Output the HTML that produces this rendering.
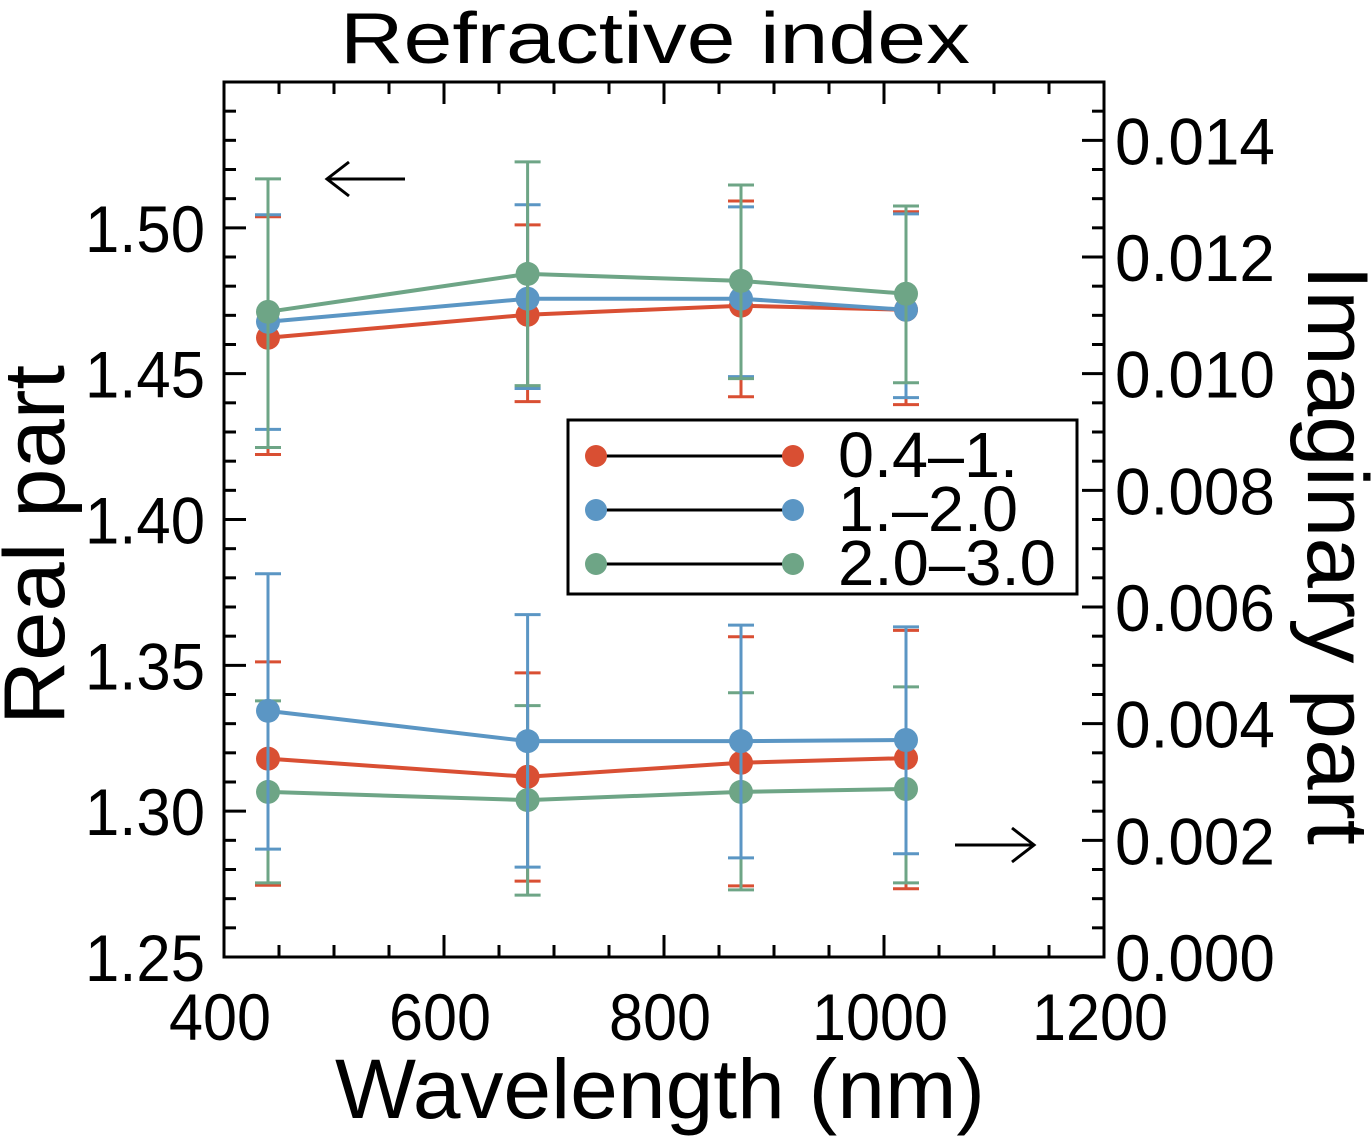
<!DOCTYPE html>
<html><head><meta charset="utf-8"><style>
html,body{margin:0;padding:0;background:#fff;}
svg{display:block;font-family:"Liberation Sans",sans-serif;}
</style></head><body>
<svg id="chart" width="1372" height="1140" viewBox="0 0 1372 1140" xmlns="http://www.w3.org/2000/svg">
<text x="655" y="63" font-size="72" text-anchor="middle" textLength="630" lengthAdjust="spacingAndGlyphs">Refractive index</text>
<text x="660" y="1118" font-size="84" text-anchor="middle" textLength="650" lengthAdjust="spacingAndGlyphs">Wavelength (nm)</text>
<text transform="translate(64,545) rotate(-90)" font-size="86" text-anchor="middle" textLength="360" lengthAdjust="spacingAndGlyphs">Real part</text>
<text transform="translate(1308,555) rotate(90)" font-size="86" text-anchor="middle" textLength="580" lengthAdjust="spacingAndGlyphs">Imaginary part</text>
<g id="ticks"></g>
<g id="marks"></g>
<rect x="224" y="82" width="880" height="875" fill="none" stroke="#000" stroke-width="3"/>
<g stroke="#000" stroke-width="3" fill="none"><line x1="327" y1="179" x2="405" y2="179"/><polyline points="349,162 327,179 349,196"/></g>
<g stroke="#000" stroke-width="3" fill="none"><line x1="955" y1="845" x2="1034" y2="845"/><polyline points="1012,828 1034,845 1012,862"/></g>
<g id="legend">
<rect x="568" y="420" width="509" height="174" fill="#fff" stroke="#000" stroke-width="3"/>
</g>
</svg>
<script>
const wavelengths = [440, 676, 870, 1020];
const seriesNames = ["0.4\u20131.", "1.\u20132.0", "2.0\u20133.0"];
const colors = ["#d94f33", "#5b96c4", "#6ea586"];
// Real part (left axis)
const realRed = [1.4623, 1.4702, 1.4733, 1.4719];
const realRedHi = [1.5038, 1.5010, 1.5092, 1.5055];
const realRedLo = [1.4223, 1.4404, 1.4421, 1.4394];
const realBlue = [1.4678, 1.4757, 1.4757, 1.4719];
const realBlueHi = [1.5045, 1.5079, 1.5072, 1.5048];
const realBlueLo = [1.4309, 1.4449, 1.4490, 1.4418];
const realGreen = [1.4712, 1.4842, 1.4818, 1.4774];
const realGreenHi = [1.5168, 1.5226, 1.5147, 1.5075];
const realGreenLo = [1.4247, 1.4459, 1.4483, 1.4469];
// Imaginary part (right axis)
const imRed = [0.00340, 0.00309, 0.00333, 0.00341];
const imRedHi = [0.00506, 0.00487, 0.00549, 0.00560];
const imRedLo = [0.00123, 0.00130, 0.00122, 0.00117];
const imBlue = [0.00422, 0.00370, 0.00370, 0.00372];
const imBlueHi = [0.00657, 0.00587, 0.00569, 0.00566];
const imBlueLo = [0.00185, 0.00154, 0.00170, 0.00177];
const imGreen = [0.00283, 0.00269, 0.00283, 0.00288];
const imGreenHi = [0.00439, 0.00431, 0.00453, 0.00463];
const imGreenLo = [0.00127, 0.00106, 0.00115, 0.00127];
const xTickLabels = ["400", "600", "800", "1000", "1200"];
const leftTickLabels = ["1.25", "1.30", "1.35", "1.40", "1.45", "1.50"];
const rightTickLabels = ["0.000", "0.002", "0.004", "0.006", "0.008", "0.010", "0.012", "0.014"];

const L = 224, R = 1104, T = 82, B = 957;
const xS = v => L + (v - 400) / 800 * (R - L);
const yL = v => B - (v - 1.25) / 0.30 * (B - T);
const yR = v => B - v / 0.015 * (B - T);
const NS = "http://www.w3.org/2000/svg";
function mk(tag, attrs, parent) {
  const e = document.createElementNS(NS, tag);
  for (const k in attrs) e.setAttribute(k, attrs[k]);
  parent.appendChild(e);
  return e;
}
const tg = document.getElementById("ticks");
for (let v = 450; v < 1200; v += 50) {
  const major = v % 200 === 0;
  const len = major ? 22 : 12;
  const t1 = mk("line", {x1: xS(v), x2: xS(v), y1: B, y2: B - len, stroke: "#000", "stroke-width": 3}, tg);
  
  
  const t2 = mk("line", {x1: xS(v), x2: xS(v), y1: T, y2: T + len, stroke: "#000", "stroke-width": 3}, tg);
  
  
}
xTickLabels.forEach(s => {
  const v = parseFloat(s);
  const t = mk("text", {x: xS(v) - 4, y: 1040, "font-size": 66, "text-anchor": "middle", textLength: s.length * 34, lengthAdjust: "spacingAndGlyphs"}, tg);
  t.textContent = s;
  
  
});
for (let i = 1; i < 30; i++) {
  const v = 1.25 + i * 0.01;
  const major = i % 5 === 0;
  const t = mk("line", {x1: L, x2: L + (major ? 22 : 12), y1: yL(v), y2: yL(v), stroke: "#000", "stroke-width": 3}, tg);
  
  
}
leftTickLabels.forEach(s => {
  const t = mk("text", {x: 205, y: yL(parseFloat(s)) + 24, "font-size": 66, "text-anchor": "end", textLength: 120, lengthAdjust: "spacingAndGlyphs"}, tg);
  t.textContent = s;
  
  
});
for (let i = 1; i < 30; i++) {
  const v = i * 0.0005;
  const major = i % 4 === 0;
  const t = mk("line", {x1: R, x2: R - (major ? 22 : 12), y1: yR(v), y2: yR(v), stroke: "#000", "stroke-width": 3}, tg);
  
  
}
rightTickLabels.forEach(s => {
  const t = mk("text", {x: 1115, y: yR(parseFloat(s)) + 24, "font-size": 66, "text-anchor": "start", textLength: 160, lengthAdjust: "spacingAndGlyphs"}, tg);
  t.textContent = s;
  
  
});

const mg = document.getElementById("marks");
const groups = [
  {vals: realRed, hi: realRedHi, lo: realRedLo, y: yL, c: 0, name: "real-red"},
  {vals: realBlue, hi: realBlueHi, lo: realBlueLo, y: yL, c: 1, name: "real-blue"},
  {vals: realGreen, hi: realGreenHi, lo: realGreenLo, y: yL, c: 2, name: "real-green"},
  {vals: imRed, hi: imRedHi, lo: imRedLo, y: yR, c: 0, name: "imag-red"},
  {vals: imGreen, hi: imGreenHi, lo: imGreenLo, y: yR, c: 2, name: "imag-green"},
  {vals: imBlue, hi: imBlueHi, lo: imBlueLo, y: yR, c: 1, name: "imag-blue"}
];
groups.forEach(g => {
  const col = colors[g.c];
  const sg = mk("g", {}, mg);
  
  
  wavelengths.forEach((w, i) => {
    const x = xS(w), yh = g.y(g.hi[i]), yl = g.y(g.lo[i]);
    const eb = mk("path", {d: `M${x},${yh}V${yl}M${x-13},${yh}H${x+13}M${x-13},${yl}H${x+13}`, stroke: col, "stroke-width": 3, fill: "none"}, sg);
    
    
  });
  const pts = wavelengths.map((w, i) => xS(w) + "," + g.y(g.vals[i])).join(" ");
  const pl = mk("polyline", {points: pts, stroke: col, "stroke-width": 4, fill: "none"}, sg);
  
  
  wavelengths.forEach((w, i) => {
    const c = mk("circle", {cx: xS(w), cy: g.y(g.vals[i]), r: 12, fill: col}, sg);
    
    
  });
});

const lg = document.getElementById("legend");
const rowY = [456, 510, 564];
const legendWidths = [180, 180, 218];
seriesNames.forEach((n, i) => {
  const eg = mk("g", {}, lg);
  
  
  mk("line", {x1: 596, x2: 792, y1: rowY[i], y2: rowY[i], stroke: "#000", "stroke-width": 3}, eg);
  mk("circle", {cx: 596, cy: rowY[i], r: 11, fill: colors[i]}, eg);
  mk("circle", {cx: 793, cy: rowY[i], r: 11, fill: colors[i]}, eg);
  const t = mk("text", {x: 838, y: rowY[i] + 21, "font-size": 64, textLength: legendWidths[i], lengthAdjust: "spacingAndGlyphs"}, eg);
  t.textContent = n;
});
</script>
</body></html>
